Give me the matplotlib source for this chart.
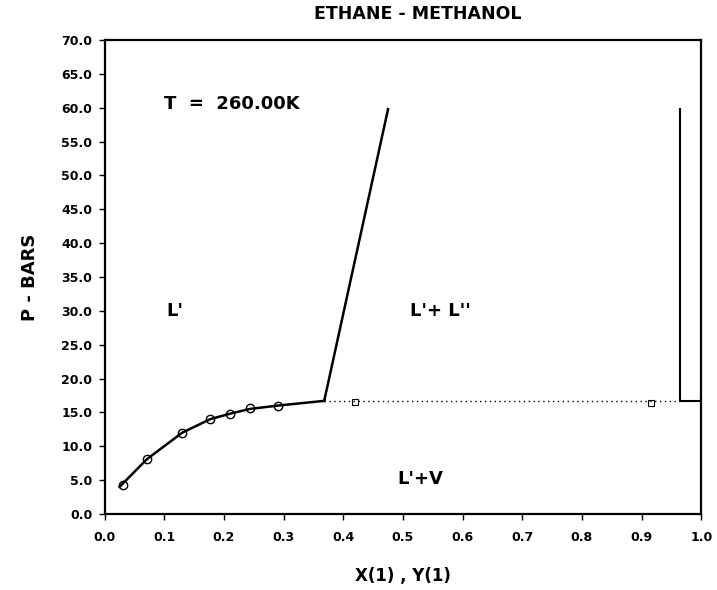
import matplotlib
matplotlib.use("Agg")
import matplotlib.pyplot as plt
import numpy as np

plt.rcParams['font.family'] = ['DejaVu Sans']
plt.rcParams['font.weight'] = 'bold'

# Experimental points (open circles)
x_exp = [0.031, 0.071, 0.130, 0.177, 0.210, 0.243, 0.290]
p_exp = [4.3, 8.1, 12.0, 14.0, 14.8, 15.6, 16.0]

# Calculated L' bubble curve
x_calc = [0.025, 0.071, 0.130, 0.177, 0.210, 0.243, 0.290, 0.368]
p_calc = [4.0, 8.1, 12.0, 14.0, 14.8, 15.5, 16.0, 16.7]

# L' / L'+L'' boundary
x_ll1 = [0.368, 0.475]
p_ll1 = [16.7, 59.8]

# Three-phase line (dotted)
x_3ph = [0.368, 0.965]
p_3ph = [16.7, 16.7]

# Squares on the three-phase line
x_sq = [0.420, 0.915]
p_sq = [16.6, 16.4]

# L'' boundary
x_ll2 = [0.965, 0.965, 1.0]
p_ll2 = [59.8, 16.7, 16.7]

xticks = [0.0, 0.1, 0.2, 0.3, 0.4, 0.5, 0.6, 0.7, 0.8, 0.9, 1.0]
yticks = [0, 5, 10, 15, 20, 25, 30, 35, 40, 45, 50, 55, 60, 65, 70]

fig = plt.figure(figsize=(7.17, 5.90), dpi=100)
ax = fig.add_axes([0.146, 0.129, 0.832, 0.803])

ax.plot(x_calc, p_calc, color='black', lw=1.8)
ax.plot(x_ll1, p_ll1, color='black', lw=1.8)
ax.plot(x_3ph, p_3ph, color='black', lw=1.0, linestyle=(0, (1, 2.5)))
ax.plot(x_ll2, p_ll2, color='black', lw=1.5)
ax.plot(x_exp, p_exp, 'o', mfc='none', mec='black', ms=6, mew=1.0)
ax.plot(x_sq, p_sq, 's', mfc='none', mec='black', ms=4, mew=0.8)

ax.set_xlim(0, 1.0)
ax.set_ylim(0, 70)
ax.set_xticks(xticks)
ax.set_yticks(yticks)
ax.set_xticklabels([f"{v:.1f}" for v in xticks])
ax.set_yticklabels([f"{v:.1f}" for v in yticks])
ax.tick_params(direction='out', length=4, width=1, labelsize=9, pad=5)
ax.tick_params(axis='x', pad=8)
for s in ax.spines.values():
    s.set_linewidth(1.6)

ax.set_xlabel("X(1) , Y(1)", fontsize=12, fontweight='bold', labelpad=17)
ax.set_ylabel("P - BARS", fontsize=13, fontweight='bold', labelpad=16)
ax.set_title("ETHANE - METHANOL", fontsize=12.5, fontweight='bold', pad=15, x=0.525)

ax.text(0.10, 60.5, "T  =  260.00K", fontsize=13, fontweight='bold', va='center')
ax.text(0.104, 30.0, "L'", fontsize=13, fontweight='bold', va='center')
ax.text(0.512, 30.0, "L'+ L''", fontsize=13, fontweight='bold', va='center')
ax.text(0.49, 5.2, "L'+V", fontsize=13, fontweight='bold', va='center')

fig.savefig("out.png", dpi=100)
